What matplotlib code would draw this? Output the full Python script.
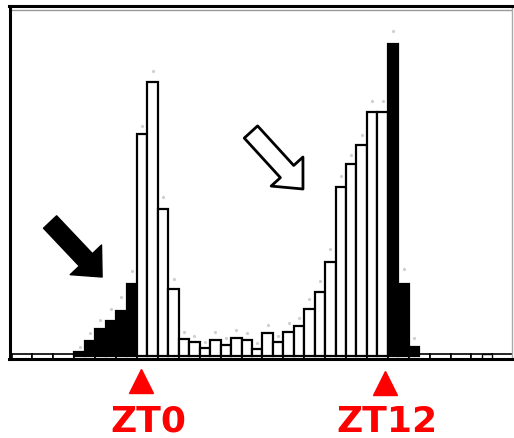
import matplotlib
matplotlib.use('Agg')
import matplotlib.pyplot as plt
import matplotlib.transforms as mtransforms
import numpy as np

# half-hour bins, left edge in hours relative to ZT0
bin_start = -3.0
bin_width = 0.5
activity = [4, 15, 27, 35, 45, 72,            # dark, before ZT0
            222, 274, 147, 67, 17, 14, 8, 16, 11, 18, 16, 7,
            23, 14, 24, 30, 47, 64, 94, 169, 192, 211, 244, 244,
            312, 72, 9]                        # dark, after ZT12
error_top = [5, 8, 9, 12, 14, 13, 8, 11, 12, 10, 7, 6, 6, 8, 7, 8, 7,
             6, 8, 6, 9, 8, 10, 11, 13, 11, 9, 10, 11, 11, 13, 15, 9]
light_on, light_off = 0.0, 12.0

# empty hourly bins along the baseline (one small count near ZT16.5)
strip_hours = list(range(-6, 18))
late_bump_x = 16.5
late_bump_val = 5

zt_labels = ['ZT0', 'ZT12']
zt_marks = [0.2, 11.85]
zt_text_x = [0.55, 11.95]

fig = plt.figure(figsize=(5.14, 4.39), dpi=100)
ax = fig.add_axes([9.5/514, (439-360)/439, (512-9.5)/514, (360-7)/439])

# baseline strip
ax.bar(strip_hours, [5]*len(strip_hours), width=1.0, bottom=-3, align='edge',
       color='white', edgecolor='black', linewidth=1.2, zorder=1)
ax.bar(late_bump_x, late_bump_val, width=0.5, bottom=-3, align='edge',
       color='white', edgecolor='black', linewidth=1.0, zorder=1)

x = bin_start + bin_width*np.arange(len(activity))
cols = ['black' if (xi < light_on or xi >= light_off) else 'white' for xi in x]
ax.bar(x, activity, width=bin_width, align='edge', color=cols,
       edgecolor='black', linewidth=1.6, zorder=2)
ax.plot(x + bin_width/2, np.array(activity) + np.array(error_top), 'o',
        color='#d0d0d0', markersize=1.3, zorder=3)

ax.set_xlim(-6.1, 17.94)
ax.set_ylim(-3, 350)
ax.set_xticks([])
ax.set_yticks([])
for s in ['left', 'bottom', 'top']:
    ax.spines[s].set_color('black')
    ax.spines[s].set_linewidth(2.2)
ax.spines['right'].set_color('#aaaaaa')
ax.spines['right'].set_linewidth(1.0)
ax.axhline(346, color='#999999', lw=1.0, zorder=0)

# arrows
style = 'simple,head_length=1.7,head_width=3.1,tail_width=1.3'
ax.annotate('', xy=(-1.67, 79), xytext=(-4.16, 134),
            arrowprops=dict(arrowstyle=style, mutation_scale=10,
                            fc='black', ec='black', shrinkA=0, shrinkB=0))
ax.annotate('', xy=(7.94, 167), xytext=(5.45, 224),
            arrowprops=dict(arrowstyle=style, mutation_scale=10,
                            fc='white', ec='black', lw=2.0,
                            shrinkA=0, shrinkB=0))

# ZT markers below the axis
trans = mtransforms.blended_transform_factory(ax.transData, ax.transAxes)
ax.plot(zt_marks, [-0.062, -0.068], '^', color='red', markersize=17,
        transform=trans, clip_on=False)
for lab, tx in zip(zt_labels, zt_text_x):
    ax.text(tx, -0.175, lab, transform=trans, ha='center', va='center',
            color='red', fontsize=26, fontweight='bold', family='DejaVu Sans')

plt.savefig('out.png', dpi=100)
